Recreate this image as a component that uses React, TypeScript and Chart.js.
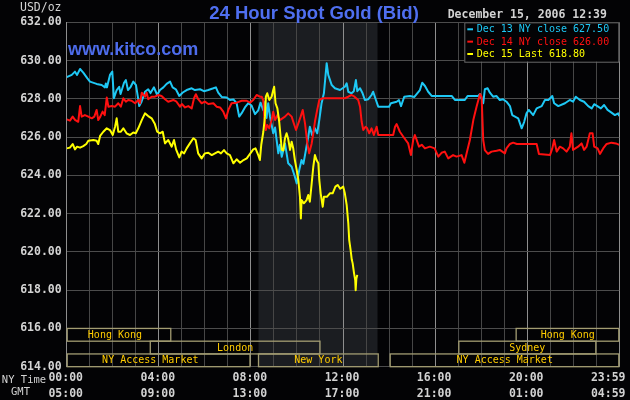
import React, { useEffect, useRef } from "react";
import { Chart, registerables } from "chart.js";

Chart.register(...registerables);

// ---- Data (hours since 00:00 NY time, price in USD/oz) ----
const dec13Hours = [0, 0.22, 0.36, 0.45, 0.58, 0.72, 0.9, 1.01, 1.3, 1.52, 1.66, 1.7, 1.75, 1.88, 1.98, 2.05, 2.17, 2.28, 2.34, 2.49, 2.57, 2.66, 2.78, 2.89, 3.01, 3.11, 3.15, 3.25, 3.4, 3.54, 3.64, 3.79, 3.93, 4.05, 4.2, 4.34, 4.49, 4.6, 4.74, 4.89, 5.04, 5.21, 5.43, 5.57, 5.79, 5.96, 6.15, 6.37, 6.48, 6.58, 6.73, 6.95, 7.09, 7.24, 7.38, 7.49, 7.6, 7.74, 7.89, 8.03, 8.18, 8.32, 8.42, 8.54, 8.62, 8.68, 8.75, 8.83, 8.97, 9.05, 9.19, 9.26, 9.34, 9.48, 9.62, 9.77, 9.91, 9.99, 10.1, 10.2, 10.28, 10.39, 10.49, 10.56, 10.66, 10.78, 10.88, 10.97, 11.07, 11.17, 11.25, 11.29, 11.36, 11.51, 11.65, 11.87, 12.08, 12.16, 12.23, 12.37, 12.47, 12.56, 12.62, 12.74, 12.85, 12.95, 13.1, 13.24, 13.31, 13.43, 13.53, 14.0, 14.08, 14.33, 14.43, 14.52, 14.66, 14.91, 15.1, 15.34, 15.44, 15.56, 15.7, 15.85, 16.72, 16.86, 17.29, 17.41, 17.87, 17.95, 18.09, 18.16, 18.28, 18.38, 18.52, 18.66, 18.81, 18.95, 19.1, 19.25, 19.35, 19.47, 19.61, 19.76, 19.87, 19.97, 20.07, 20.26, 20.41, 20.63, 20.77, 20.92, 21.09, 21.17, 21.35, 21.64, 21.85, 21.99, 22.11, 22.29, 22.47, 22.65, 22.8, 22.91, 23.08, 23.2, 23.34, 23.49, 23.66, 23.81, 23.95, 24];
const dec13Prices = [629.13, 629.25, 629.42, 629.25, 629.56, 629.37, 629.07, 628.9, 628.78, 628.72, 628.6, 628.8, 628.6, 629.25, 629.42, 628.03, 628.46, 628.63, 628.25, 628.84, 628.98, 628.46, 628.63, 628.9, 628.72, 627.96, 627.62, 627.85, 628.37, 628.5, 628.3, 628.6, 628.2, 628.46, 628.6, 628.78, 628.9, 628.6, 628.5, 628.15, 628.33, 628.46, 628.55, 628.46, 628.5, 628.4, 628.46, 628.55, 628.6, 628.32, 628.1, 628.07, 627.94, 627.97, 627.77, 627.07, 627.25, 627.55, 627.77, 627.65, 627.2, 627.4, 627.8, 627.4, 627.85, 627.0, 627.77, 627.07, 626.2, 626.5, 625.15, 625.6, 624.97, 625.67, 624.63, 624.45, 623.93, 623.58, 624.28, 624.8, 624.6, 625.33, 626.02, 626.54, 626.1, 626.46, 626.2, 626.89, 627.77, 628.29, 629.33, 629.86, 629.25, 628.72, 628.55, 628.46, 628.63, 628.81, 628.37, 628.29, 628.4, 628.98, 628.4, 628.55, 628.29, 627.94, 627.98, 628.2, 628.37, 627.94, 627.59, 627.59, 627.77, 627.85, 627.94, 627.62, 628.11, 628.15, 628.1, 628.46, 628.84, 628.67, 628.37, 628.15, 628.15, 627.94, 627.94, 628.15, 628.15, 628.25, 627.77, 628.5, 628.55, 628.32, 628.11, 628.15, 627.94, 627.98, 627.85, 627.62, 627.15, 627.07, 626.98, 626.46, 626.8, 627.24, 627.42, 627.15, 627.5, 627.62, 627.94, 627.94, 628.15, 627.77, 627.62, 627.77, 627.94, 627.85, 628.11, 627.94, 627.85, 627.62, 627.5, 627.72, 627.59, 627.5, 627.68, 627.42, 627.28, 627.15, 627.24, 627.1];

const dec14Hours = [0, 0.14, 0.26, 0.36, 0.5, 0.58, 0.65, 0.79, 0.94, 1.09, 1.2, 1.3, 1.37, 1.46, 1.56, 1.65, 1.74, 1.81, 1.96, 2.1, 2.24, 2.35, 2.46, 2.57, 2.67, 2.82, 2.97, 3.11, 3.18, 3.26, 3.4, 3.47, 3.54, 3.69, 3.83, 3.98, 4.12, 4.27, 4.41, 4.63, 4.77, 4.92, 5.0, 5.14, 5.28, 5.43, 5.53, 5.61, 5.71, 5.86, 6.0, 6.15, 6.37, 6.51, 6.66, 6.8, 6.92, 7.02, 7.16, 7.38, 7.6, 7.82, 7.96, 8.1, 8.25, 8.39, 8.47, 8.54, 8.58, 8.65, 8.71, 8.8, 8.9, 8.97, 9.05, 9.15, 9.26, 9.48, 9.62, 9.77, 9.84, 9.96, 10.06, 10.16, 10.25, 10.35, 10.45, 10.53, 10.64, 10.71, 10.78, 10.88, 10.97, 11.12, 12.08, 12.23, 12.37, 12.5, 12.66, 12.74, 12.81, 12.88, 12.98, 13.05, 13.14, 13.24, 13.34, 13.46, 13.53, 14.18, 14.26, 14.33, 14.47, 14.62, 14.83, 14.95, 15.05, 15.12, 15.2, 15.3, 15.42, 15.56, 15.77, 15.98, 16.14, 16.28, 16.42, 16.57, 16.78, 16.93, 17.15, 17.27, 17.37, 17.51, 17.66, 17.8, 17.95, 18.02, 18.09, 18.16, 18.3, 18.45, 18.67, 18.81, 19.03, 19.1, 19.25, 19.39, 19.55, 20.41, 20.51, 20.99, 21.09, 21.17, 21.28, 21.42, 21.56, 21.71, 21.85, 21.92, 21.99, 22.21, 22.36, 22.47, 22.58, 22.72, 22.84, 22.91, 23.06, 23.16, 23.3, 23.45, 23.66, 23.85, 24];
const dec14Prices = [626.93, 626.86, 627.07, 626.9, 626.8, 627.62, 627.07, 627.15, 627.07, 626.98, 627.07, 627.42, 626.89, 627.07, 627.33, 627.15, 628.07, 627.59, 627.62, 627.59, 627.77, 627.59, 628.03, 627.85, 627.94, 627.9, 627.77, 627.94, 627.77, 628.32, 628.11, 628.32, 627.98, 628.11, 628.11, 628.2, 628.15, 627.98, 627.85, 627.94, 627.85, 627.59, 627.73, 627.55, 627.62, 627.5, 628.03, 628.24, 627.98, 627.77, 627.85, 627.73, 627.77, 627.59, 627.55, 627.33, 626.98, 627.42, 627.77, 627.8, 627.9, 627.9, 627.8, 627.94, 628.2, 628.11, 628.11, 627.9, 627.07, 626.37, 626.63, 626.46, 626.89, 627.33, 626.89, 627.15, 626.89, 627.07, 627.24, 627.07, 626.8, 626.37, 626.72, 627.07, 627.42, 626.72, 625.67, 625.15, 625.67, 626.2, 626.8, 627.42, 627.94, 628.03, 628.03, 628.11, 628.2, 628.11, 627.94, 627.59, 626.8, 626.37, 626.54, 626.46, 626.2, 626.46, 626.11, 626.54, 626.11, 626.11, 626.54, 626.68, 626.28, 626.02, 625.67, 625.06, 625.85, 626.11, 625.85, 625.5, 625.6, 625.41, 625.5, 625.41, 624.98, 625.18, 625.24, 624.89, 625.06, 624.98, 625.06, 624.66, 625.15, 625.85, 626.89, 627.59, 628.25, 628.11, 625.85, 625.32, 625.12, 625.24, 625.29, 625.33, 625.15, 625.41, 625.64, 625.71, 625.64, 625.64, 625.12, 625.06, 625.41, 625.85, 625.24, 625.5, 625.41, 625.24, 625.5, 626.2, 625.33, 625.5, 625.67, 625.33, 625.5, 626.2, 626.2, 625.5, 625.41, 625.12, 625.41, 625.64, 625.71, 625.67, 625.59];

const dec15Hours = [0, 0.14, 0.26, 0.36, 0.45, 0.58, 0.72, 0.85, 0.94, 1.16, 1.3, 1.37, 1.45, 1.59, 1.74, 1.88, 2.0, 2.1, 2.17, 2.24, 2.35, 2.46, 2.6, 2.75, 2.89, 3.0, 3.11, 3.26, 3.4, 3.54, 3.69, 3.83, 3.93, 4.05, 4.17, 4.27, 4.41, 4.56, 4.66, 4.75, 4.89, 4.99, 5.1, 5.21, 5.35, 5.5, 5.6, 5.71, 5.86, 6.0, 6.15, 6.3, 6.44, 6.58, 6.7, 6.83, 6.95, 7.09, 7.24, 7.38, 7.53, 7.68, 7.82, 7.96, 8.1, 8.2, 8.32, 8.39, 8.45, 8.54, 8.61, 8.65, 8.71, 8.8, 8.9, 8.97, 9.01, 9.07, 9.15, 9.23, 9.29, 9.34, 9.41, 9.48, 9.55, 9.62, 9.7, 9.77, 9.84, 9.91, 9.99, 10.06, 10.13, 10.17, 10.2, 10.3, 10.42, 10.49, 10.56, 10.64, 10.71, 10.78, 10.85, 10.93, 10.97, 11.03, 11.12, 11.17, 11.3, 11.43, 11.55, 11.67, 11.77, 11.88, 12.01, 12.08, 12.16, 12.23, 12.27, 12.33, 12.38, 12.42, 12.48, 12.53, 12.55, 12.58, 12.62];
const dec15Prices = [625.41, 625.45, 625.64, 625.36, 625.5, 625.45, 625.53, 625.64, 625.81, 625.85, 625.81, 625.64, 626.06, 626.28, 626.46, 626.37, 626.11, 626.54, 626.98, 626.28, 626.28, 626.46, 626.2, 626.11, 626.24, 626.2, 626.46, 626.89, 627.24, 627.1, 626.98, 626.68, 626.28, 626.2, 626.28, 625.67, 625.85, 625.5, 625.85, 625.36, 624.94, 625.24, 625.15, 625.41, 625.67, 625.94, 625.85, 625.15, 624.89, 625.15, 625.18, 625.06, 625.15, 625.24, 625.15, 625.32, 625.15, 625.06, 624.63, 624.84, 624.66, 624.8, 624.89, 625.12, 625.36, 625.41, 625.06, 624.8, 625.6, 626.28, 627.07, 628.11, 628.29, 627.94, 628.11, 628.46, 628.63, 627.77, 627.5, 626.8, 626.02, 625.33, 625.3, 625.94, 626.2, 625.9, 625.33, 625.76, 625.4, 624.8, 624.28, 623.76, 622.88, 621.75, 622.71, 622.54, 622.71, 622.97, 622.62, 623.58, 624.45, 625.06, 624.8, 624.63, 623.76, 623.06, 622.36, 622.88, 622.88, 623.06, 623.06, 623.41, 623.5, 623.3, 623.41, 623.06, 622.45, 621.49, 620.62, 620.1, 619.6, 619.4, 618.88, 618.53, 618.0, 618.6, 618.8];

const legendLabels = ["Dec 13 NY close 627.50", "Dec 14 NY close 626.00", "Dec 15 Last 618.80"];

const tickHours = [0, 4, 8, 12, 16, 20, 24];
const nyTimeLabels = ["00:00", "04:00", "08:00", "12:00", "16:00", "20:00", "23:59"];
const gmtLabels = ["05:00", "09:00", "13:00", "17:00", "21:00", "01:00", "04:59"];

const sessionNames = ["Hong Kong", "London", "NY Access Market", "New York", "NY Access Market", "Sydney", "Hong Kong"];
const sessionStart = [-0.33, 3.63, -0.7, 8.33, 14.05, 17.03, 19.52];
const sessionEnd = [4.52, 11.0, 7.96, 13.53, 24, 22.98, 24];
const sessionRow = [0, 1, 2, 2, 2, 1, 0];

const comexOpen = 8.33;
const comexClose = 13.5;

const titleText = "24 Hour Spot Gold (Bid)";
const siteText = "www.kitco.com";
const dateText = "December 15, 2006 12:39";
const unitText = "USD/oz";

const pts = (xs: number[], ys: number[]) => xs.map((x, i) => ({ x, y: ys[i] }));

export default function App() {
  const ref = useRef<HTMLCanvasElement | null>(null);

  useEffect(() => {
    document.body.style.margin = "0";
    document.body.style.background = "#030305";
    const canvas = ref.current;
    if (!canvas) return;
    const mono = "'DejaVu Sans Mono', monospace";
    const sans = "'Liberation Sans', Arial, sans-serif";
    const seriesColors = ["#1ec8f5", "#ff1010", "#ffff00"];

    const overlay = {
      id: "kitcoOverlay",
      beforeDraw(chart: any) {
        const { ctx, chartArea: a, scales } = chart;
        const x = scales.x;
        ctx.save();
        ctx.fillStyle = "#030305";
        ctx.fillRect(0, 0, chart.width, chart.height);
        const x1 = x.getPixelForValue(comexOpen);
        const x2 = x.getPixelForValue(comexClose);
        ctx.fillStyle = "#1b1d21";
        ctx.fillRect(x1, a.top, x2 - x1, a.bottom - a.top);
        ctx.restore();
      },
      afterDraw(chart: any) {
        const { ctx, chartArea: a, scales } = chart;
        const x = scales.x;
        const y = scales.y;
        ctx.save();

        // trading session boxes
        const rowTop = y.getPixelForValue(616);
        const rowH = (a.bottom - rowTop) / 3;
        ctx.lineWidth = 1.3;
        ctx.strokeStyle = "#a39d72";
        ctx.font = `10px ${mono}`;
        ctx.textAlign = "center";
        ctx.textBaseline = "middle";
        ctx.fillStyle = "#ffcc00";
        sessionNames.forEach((name, i) => {
          const xs = x.getPixelForValue(sessionStart[i]);
          const xe = x.getPixelForValue(sessionEnd[i]);
          const l = Math.max(xs, a.left + 0.5);
          const r = Math.min(xe, a.right - 0.5);
          const t = rowTop + sessionRow[i] * rowH;
          ctx.strokeRect(l, t, r - l, rowH);
          ctx.fillText(name, (xs + xe) / 2, t + rowH / 2 + 0.5);
        });

        // legend box
        const lx = 464.3;
        const lw = a.right - lx;
        ctx.fillStyle = "#030305";
        ctx.fillRect(lx, a.top, lw, 39.4);
        ctx.strokeStyle = "#6a6a6a";
        ctx.lineWidth = 1;
        ctx.strokeRect(lx + 0.5, a.top + 0.5, lw - 1, 39.4);
        ctx.font = `10px ${mono}`;
        ctx.textAlign = "left";
        legendLabels.forEach((lab, i) => {
          const ly = a.top + 7 + i * 12.35;
          ctx.strokeStyle = seriesColors[i];
          ctx.lineWidth = 2;
          ctx.beginPath();
          ctx.moveTo(467.3, ly);
          ctx.lineTo(473, ly);
          ctx.stroke();
          ctx.fillStyle = seriesColors[i];
          ctx.fillText(lab, 476.7, ly + 0.5);
        });

        // title & header texts
        ctx.textBaseline = "alphabetic";
        ctx.textAlign = "center";
        ctx.fillStyle = "#4f6ff0";
        ctx.font = `bold 18.5px ${sans}`;
        ctx.fillText(titleText, 314, 18.5);
        ctx.textAlign = "left";
        ctx.font = `bold 18px ${sans}`;
        ctx.fillStyle = "#4d6cec";
        ctx.fillText(siteText, 68, 55);

        ctx.textBaseline = "middle";
        ctx.fillStyle = "#d2d2d2";
        ctx.font = `bold 11.5px ${mono}`;
        ctx.fillText(dateText, 447.7, 15);
        ctx.font = `11.5px ${mono}`;
        ctx.fillText(unitText, 20, 8.5);

        // x-axis time labels
        ctx.font = `bold 11.5px ${mono}`;
        tickHours.forEach((h, i) => {
          const px = x.getPixelForValue(h);
          const last = i === tickHours.length - 1;
          ctx.textAlign = last ? "right" : "center";
          const tx = last ? 625.5 : px - 1;
          ctx.fillText(nyTimeLabels[i], tx, 378.5);
          ctx.fillText(gmtLabels[i], tx, 394);
        });
        ctx.font = `10.5px ${mono}`;
        ctx.textAlign = "center";
        ctx.fillText("NY Time", 24, 380);
        ctx.fillText("GMT", 20.5, 392.5);

        ctx.restore();
      },
    };

    const chart = new Chart(canvas, {
      type: "line",
      data: {
        datasets: [
          { label: legendLabels[0], data: pts(dec13Hours, dec13Prices), borderColor: seriesColors[0], order: 3 },
          { label: legendLabels[1], data: pts(dec14Hours, dec14Prices), borderColor: seriesColors[1], order: 2 },
          { label: legendLabels[2], data: pts(dec15Hours, dec15Prices), borderColor: seriesColors[2], order: 1 },
        ],
      },
      options: {
        animation: false,
        responsive: false,
        events: [],
        layout: { padding: { top: 22.3, right: 10.7, left: 0, bottom: 0 } },
        elements: {
          line: { borderWidth: 2, tension: 0, borderJoinStyle: "round" },
          point: { radius: 0 },
        },
        plugins: { legend: { display: false }, tooltip: { enabled: false }, title: { display: false } },
        scales: {
          x: {
            type: "linear",
            min: 0,
            max: 24,
            afterFit: (s: any) => {
              s.height = 33.3;
            },
            ticks: { display: false, stepSize: 1, maxTicksLimit: 30 },
            grid: {
              drawTicks: false,
              color: (c: any) => (c.tick && c.tick.value % 4 === 0 ? "#8e8e8e" : "#464646"),
              lineWidth: 1,
            },
            border: { display: false },
          },
          y: {
            min: 614,
            max: 632,
            afterFit: (s: any) => {
              s.width = 66.7;
            },
            ticks: {
              stepSize: 2,
              padding: 5,
              color: "#d4d4d4",
              font: { family: "'DejaVu Sans Mono', monospace", size: 11.5, weight: "bold" },
              callback: (v: any) => Number(v).toFixed(2),
            },
            grid: { drawTicks: false, color: "#4c4c4c", lineWidth: 1 },
            border: { display: true, color: "#8e8e8e", width: 1 },
          },
        },
      },
      plugins: [overlay],
    } as any);

    return () => chart.destroy();
  }, []);

  return (
    <div style={{ width: 630, height: 400, background: "#030305" }}>
      <canvas ref={ref} width={630} height={400} style={{ display: "block" }} />
    </div>
  );
}
